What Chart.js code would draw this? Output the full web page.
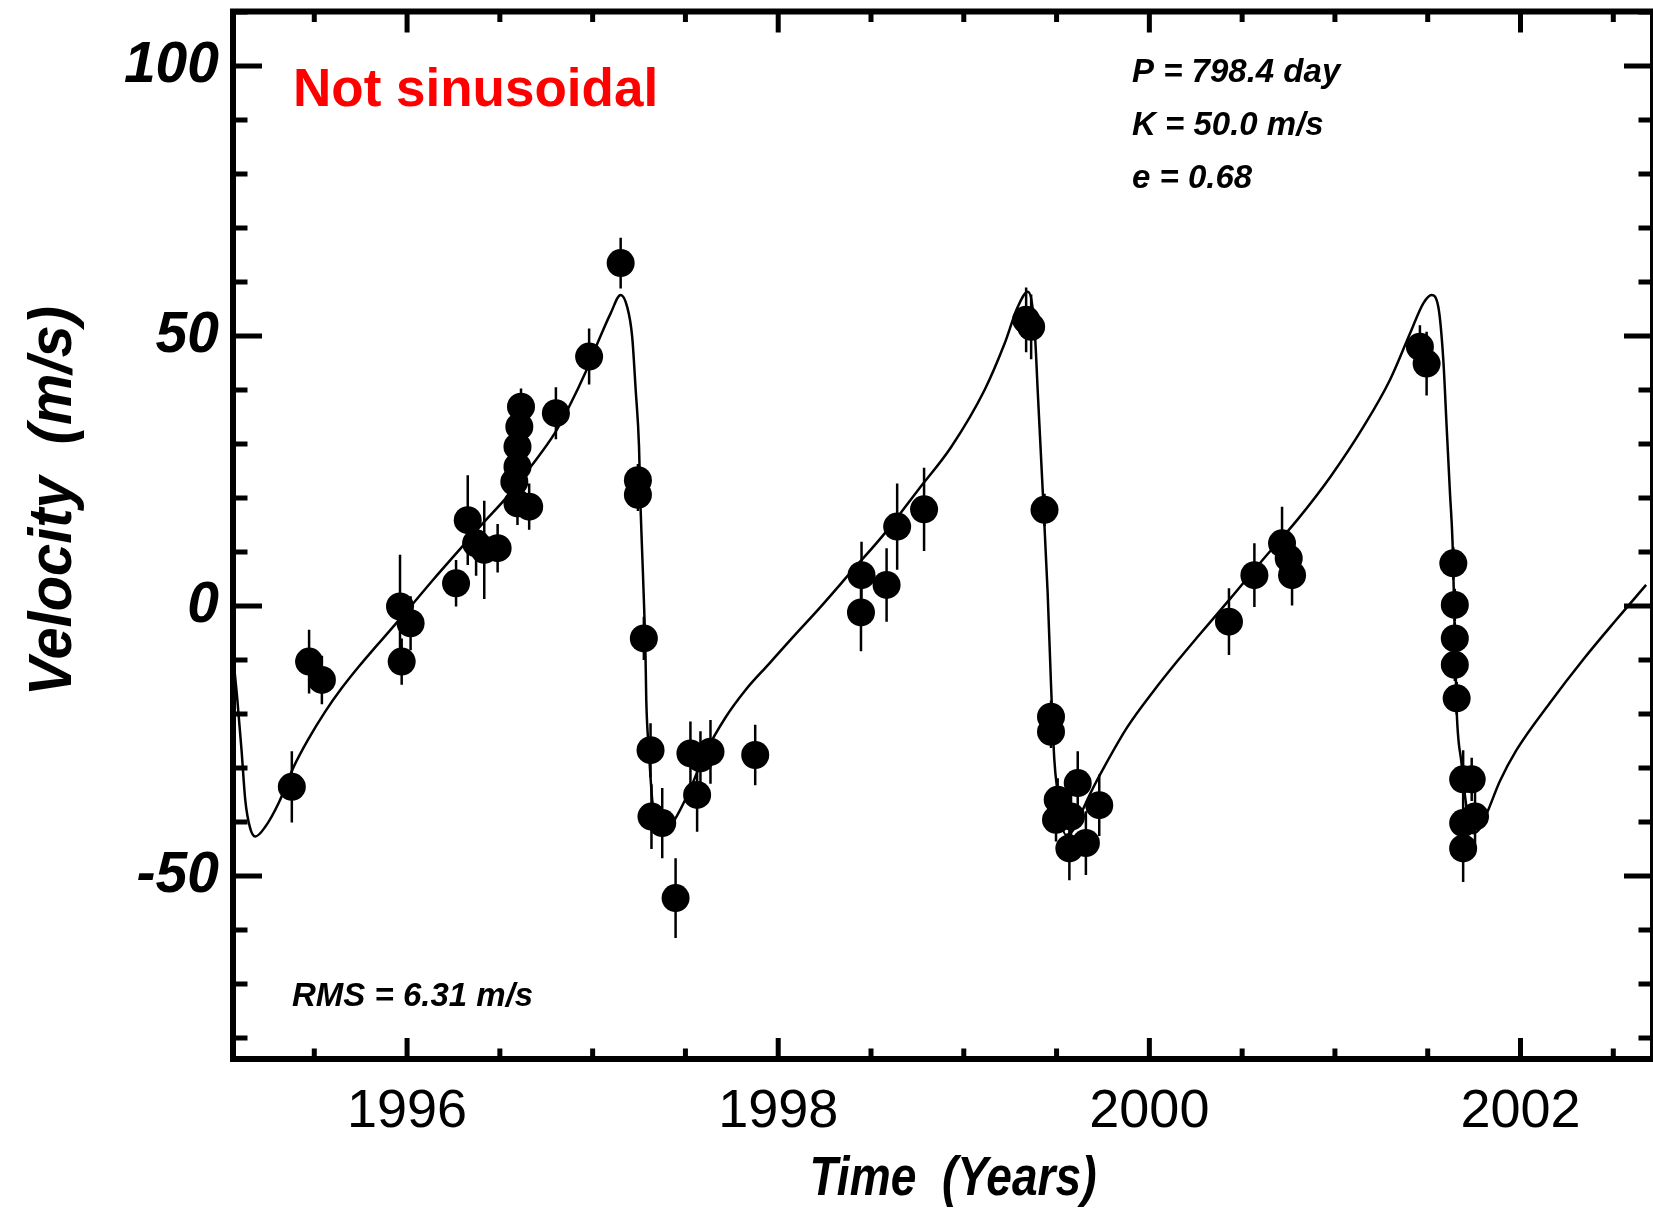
<!DOCTYPE html>
<html>
<head>
<meta charset="utf-8">
<title>Radial velocity curve</title>
<script src="https://cdn.jsdelivr.net/npm/chart.js@4.4.1/dist/chart.umd.min.js"></script>
<style>
  html, body { margin: 0; padding: 0; background: #ffffff; }
  #wrap { width: 1653px; height: 1209px; }
  canvas { display: block; }
</style>
</head>
<body>
<div id="wrap"><canvas id="rv" width="1653" height="1209"></canvas></div>
<script>
// Observation epochs (decimal years), radial velocities and 1-sigma errors (m/s)
const obsYears = [
  1995.379, 1995.472, 1995.541, 1995.962, 1996.019, 1995.971, 1996.264, 1996.327, 1996.372, 1996.416,
  1996.488, 1996.614, 1996.605, 1996.595, 1996.595, 1996.578, 1996.595, 1996.658, 1996.802, 1996.981,
  1997.151, 1997.244, 1997.244, 1997.276, 1997.312, 1997.317, 1997.375, 1997.447, 1997.563, 1997.527,
  1997.635, 1997.581, 1997.876, 1998.446, 1998.449, 1998.584, 1998.641, 1998.786, 1999.336, 1999.363,
  1999.435, 1999.470, 1999.470, 1999.614, 1999.506, 1999.497, 1999.569, 1999.658, 1999.730, 1999.578,
  2000.429, 2000.566, 2000.715, 2000.751, 2000.769, 2001.458, 2001.494, 2001.638, 2001.646, 2001.646,
  2001.646, 2001.656, 2001.691, 2001.737, 2001.755, 2001.691, 2001.691
];
const obsVel = [
  -33.5, -10.3, -13.7, -0.1, -3.2, -10.3, 4.2, 15.9, 11.6, 10.4,
  10.7, 36.9, 33.2, 29.5, 25.8, 23.0, 19.0, 18.4, 35.7, 46.2,
  63.5, 23.3, 20.6, -6.0, -26.7, -39.0, -40.2, -54.1, -35.0, -27.3,
  -27.0, -28.2, -27.6, -1.2, 5.7, 3.9, 14.7, 17.9, 53.0, 51.7,
  17.8, -20.5, -23.3, -32.8, -35.9, -39.6, -44.9, -43.9, -36.9, -39.0,
  -2.9, 5.7, 11.6, 8.8, 5.7, 48.0, 44.9, 7.9, 0.2, -6.0,
  -10.9, -17.1, -32.1, -32.1, -39.0, -40.2, -44.9
];
const obsErr = [
  6.6, 5.9, 4.5, 9.6, 5.0, 4.3, 4.3, 8.3, 6.0, 9.1,
  4.5, 3.4, 3.5, 4.0, 4.0, 4.0, 4.0, 4.3, 4.8, 5.2,
  4.7, 3.0, 3.0, 4.0, 5.0, 6.0, 6.5, 7.4, 6.8, 5.9,
  5.9, 5.0, 5.6, 7.2, 6.2, 6.8, 8.0, 7.7, 6.0, 6.0,
  3.0, 3.0, 3.0, 5.9, 4.0, 4.0, 5.9, 5.9, 5.7, 5.0,
  6.2, 5.9, 6.8, 4.0, 5.6, 4.0, 5.9, 3.0, 3.0, 3.0,
  3.0, 3.0, 5.4, 4.0, 5.0, 5.0, 6.2
];

// Keplerian orbit fit, sampled along the time axis
const fitYears = [
  1995.062, 1995.084, 1995.108, 1995.128, 1995.154, 1995.182, 1995.236, 1995.308, 1995.389, 1995.469,
  1995.558, 1995.648, 1995.738, 1995.827, 1995.899, 1996.029, 1996.144, 1996.259, 1996.413, 1996.528,
  1996.662, 1996.796, 1996.873, 1996.963, 1997.034, 1997.097, 1997.151, 1997.186, 1997.213, 1997.232,
  1997.250, 1997.258, 1997.271, 1997.285, 1997.289, 1997.303, 1997.321, 1997.340, 1997.370, 1997.400,
  1997.437, 1997.518, 1997.608, 1997.715, 1997.823, 1997.948, 1998.073, 1998.225, 1998.395, 1998.575,
  1998.754, 1998.933, 1999.112, 1999.220, 1999.291, 1999.345, 1999.381, 1999.399, 1999.426, 1999.452,
  1999.470, 1999.488, 1999.506, 1999.525, 1999.550, 1999.590, 1999.630, 1999.685, 1999.757, 1999.882,
  2000.026, 2000.151, 2000.258, 2000.437, 2000.617, 2000.796, 2000.975, 2001.154, 2001.297, 2001.405,
  2001.477, 2001.521, 2001.557, 2001.584, 2001.602, 2001.620, 2001.634, 2001.645, 2001.656, 2001.682,
  2001.710, 2001.745, 2001.785, 2001.826, 2001.888, 2001.978, 2002.157, 2002.336, 2002.515, 2002.677
];
const fitVel = [
  -9.3, -16.8, -26.7, -35.9, -41.1, -42.7, -40.9, -36.5, -29.8, -24.6,
  -19.6, -15.2, -11.3, -7.7, -4.9, 0.3, 5.0, 9.5, 15.5, 19.8,
  25.6, 32.0, 36.9, 43.4, 49.3, 54.2, 57.6, 55.4, 49.9, 40.0,
  29.5, 18.4, 6.1, -9.4, -17.4, -26.7, -35.9, -40.0, -42.3, -41.6,
  -39.9, -34.5, -27.2, -20.7, -15.6, -10.8, -6.0, -0.3, 6.4, 13.5,
  21.5, 29.5, 40.0, 48.6, 55.4, 58.2, 51.7, 39.4, 20.9, 2.4,
  -14.5, -28.5, -34.7, -39.8, -42.4, -41.5, -38.6, -34.5, -29.8, -22.4,
  -15.6, -10.2, -5.8, 1.4, 8.8, 15.9, 23.9, 33.2, 41.9, 50.5,
  56.1, 57.6, 55.4, 45.6, 33.2, 20.9, 11.6, -4.0, -19.3, -29.1,
  -37.5, -42.1, -41.0, -37.8, -32.5, -26.7, -18.0, -10.0, -2.6, 3.9
];

// Axis ranges and labelled ticks
const xRange = [1995.062, 2002.714];
const yRange = [-83.9, 110.1];
const xLabelYears = [1996, 1998, 2000, 2002];
const yLabelValues = [-50, 0, 50, 100];

// Text annotations
const fitParams = ['P = 798.4 day', 'K = 50.0 m/s', 'e = 0.68'];
const rmsText = 'RMS = 6.31 m/s';
const noteText = 'Not sinusoidal';
const xTitle = 'Time  (Years)';
const yTitle = 'Velocity  (m/s)';

const FAMILY = '"Liberation Sans", Arial, Helvetica, sans-serif';

// Scatter points and their error bars (segments separated by gaps)
const points = obsYears.map((t, i) => ({ x: t, y: obsVel[i] }));
const errorSegments = [];
obsYears.forEach((t, i) => {
  errorSegments.push({ x: t, y: obsVel[i] - obsErr[i] });
  errorSegments.push({ x: t, y: obsVel[i] + obsErr[i] });
  errorSegments.push({ x: t, y: null });
});
const fitCurve = fitYears.map((t, i) => ({ x: t, y: fitVel[i] }));

function drawLabel(ctx, str, x, y, font, opts) {
  opts = opts || {};
  ctx.save();
  ctx.font = font;
  ctx.fillStyle = opts.color || '#000000';
  const w = ctx.measureText(str).width;
  const sx = opts.width ? opts.width / w : 1;
  ctx.translate(x, y);
  if (opts.angle) ctx.rotate(opts.angle);
  ctx.scale(sx, 1);
  ctx.textAlign = opts.align || 'left';
  ctx.textBaseline = 'alphabetic';
  ctx.fillText(str, 0, 0);
  ctx.restore();
}

// Keep the plot box exactly where the layout padding puts it
function noEdgePadding(s) {
  s.paddingTop = 0; s.paddingBottom = 0; s.paddingLeft = 0; s.paddingRight = 0;
}

// White page, box frame with inward ticks on all four sides
const framePlugin = {
  id: 'frame',
  beforeDraw(chart) {
    const ctx = chart.ctx;
    ctx.save();
    ctx.fillStyle = '#ffffff';
    ctx.fillRect(0, 0, chart.width, chart.height);
    ctx.restore();
  },
  afterDatasetsDraw(chart) {
    const { ctx, chartArea: a, scales } = chart;
    const xs = scales.x, ys = scales.y;
    ctx.save();
    ctx.strokeStyle = '#000000';
    ctx.lineCap = 'butt';
    ctx.lineWidth = 5;
    ctx.beginPath();
    xs.ticks.forEach(t => {
      const px = xs.getPixelForValue(t.value);
      const len = xLabelYears.includes(t.value) ? 21 : 10.5;
      ctx.moveTo(px, a.bottom); ctx.lineTo(px, a.bottom - len);
      ctx.moveTo(px, a.top); ctx.lineTo(px, a.top + len);
    });
    ys.ticks.forEach(t => {
      const py = ys.getPixelForValue(t.value);
      const len = yLabelValues.includes(t.value) ? 29 : 14.5;
      ctx.moveTo(a.left, py); ctx.lineTo(a.left + len, py);
      ctx.moveTo(a.right, py); ctx.lineTo(a.right - len, py);
    });
    ctx.stroke();
    ctx.lineWidth = 6;
    ctx.strokeRect(a.left, a.top, a.right - a.left, a.bottom - a.top);
    ctx.restore();
  },
  afterDraw(chart) {
    const ctx = chart.ctx;
    const a = chart.chartArea;
    // Axis titles
    drawLabel(ctx, xTitle, 953, 1195, 'italic bold 55px ' + FAMILY, { align: 'center', width: 287 });
    drawLabel(ctx, yTitle, 71, 501, 'italic bold 62px ' + FAMILY, { align: 'center', width: 390, angle: -Math.PI / 2 });
    // Annotations inside the frame
    drawLabel(ctx, noteText, a.left + 60, 106, 'bold 53px ' + FAMILY, { color: '#ff0000' });
    fitParams.forEach((s, i) => {
      drawLabel(ctx, s, 1132, 82 + i * 53, 'italic bold 33px ' + FAMILY);
    });
    drawLabel(ctx, rmsText, a.left + 59, 1006, 'italic bold 33px ' + FAMILY);
  }
};

new Chart(document.getElementById('rv'), {
  type: 'scatter',
  data: {
    datasets: [
      {
        label: 'Observations',
        data: points,
        pointRadius: 14,
        pointHoverRadius: 14,
        pointBackgroundColor: '#000000',
        pointBorderWidth: 0,
        showLine: false
      },
      {
        type: 'line',
        label: 'Errors',
        data: errorSegments,
        borderColor: '#000000',
        borderWidth: 2.5,
        pointRadius: 0,
        spanGaps: false,
        fill: false
      },
      {
        type: 'line',
        label: 'Orbit fit',
        data: fitCurve,
        borderColor: '#000000',
        borderWidth: 2.5,
        pointRadius: 0,
        cubicInterpolationMode: 'monotone',
        fill: false
      }
    ]
  },
  options: {
    responsive: false,
    animation: false,
    devicePixelRatio: 1,
    layout: { autoPadding: false, padding: { top: 11.5, right: -4, left: 0, bottom: 0 } },
    plugins: { legend: { display: false }, tooltip: { enabled: false } },
    events: [],
    scales: {
      x: {
        type: 'linear',
        min: xRange[0],
        max: xRange[1],
        grid: { display: false, drawTicks: false },
        border: { display: false },
        ticks: {
          stepSize: 0.5,
          includeBounds: false,
          autoSkip: false,
          maxRotation: 0,
          minRotation: 0,
          padding: 21,
          color: '#000000',
          font: { family: FAMILY, size: 54, weight: 'normal' },
          callback: v => xLabelYears.includes(v) ? String(v) : ''
        },
        afterFit: s => { s.height = 150; noEdgePadding(s); }
      },
      y: {
        type: 'linear',
        min: yRange[0],
        max: yRange[1],
        grid: { display: false, drawTicks: false },
        border: { display: false },
        ticks: {
          stepSize: 10,
          includeBounds: false,
          autoSkip: false,
          padding: 14,
          color: '#000000',
          font: { family: FAMILY, size: 57, weight: 'bold', style: 'italic' },
          callback: v => yLabelValues.includes(v) ? String(v) : ''
        },
        afterFit: s => { s.width = 233; noEdgePadding(s); }
      }
    }
  },
  plugins: [framePlugin]
});
</script>
</body>
</html>
